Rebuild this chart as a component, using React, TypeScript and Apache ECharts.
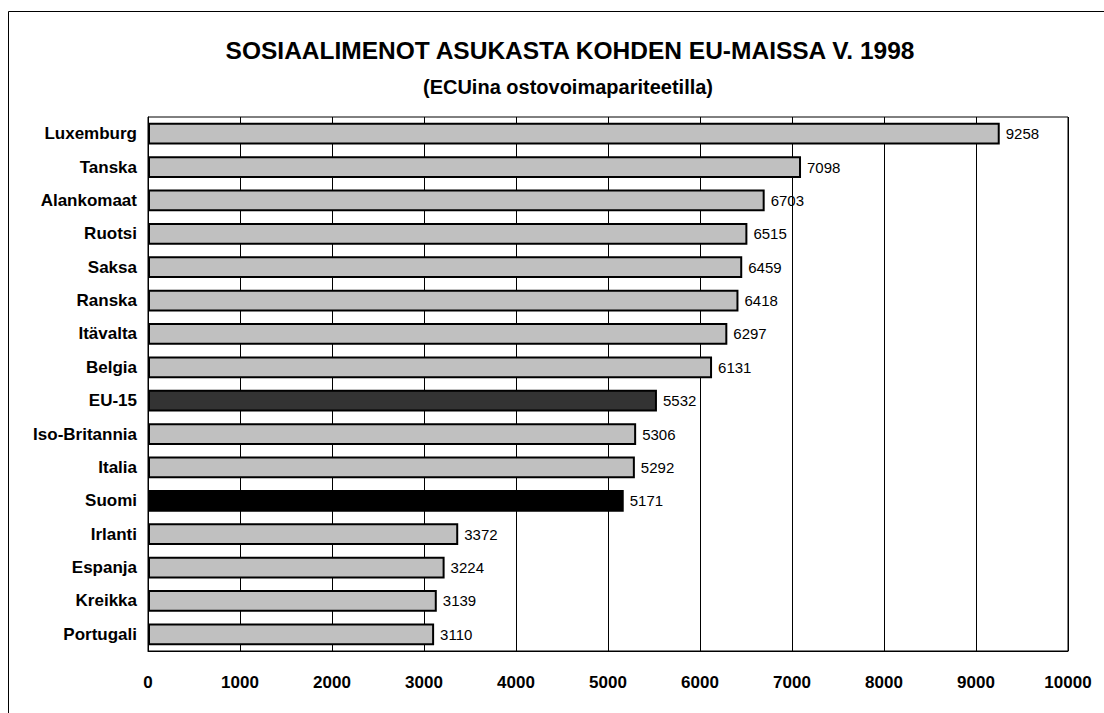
import React, { useEffect, useRef } from "react";
import * as echarts from "echarts";

const categories = [
  "Luxemburg", "Tanska", "Alankomaat", "Ruotsi", "Saksa", "Ranska", "Itävalta", "Belgia",
  "EU-15", "Iso-Britannia", "Italia", "Suomi", "Irlanti", "Espanja", "Kreikka", "Portugali",
];
const values = [9258, 7098, 6703, 6515, 6459, 6418, 6297, 6131, 5532, 5306, 5292, 5171, 3372, 3224, 3139, 3110];
const barColors: Record<string, string> = { "EU-15": "#333333", Suomi: "#000000" };
const defaultColor = "#C0C0C0";

const titleText = "SOSIAALIMENOT ASUKASTA KOHDEN EU-MAISSA V. 1998";
const subtitleText = "(ECUina ostovoimapariteetilla)";

export default function App() {
  const ref = useRef<HTMLDivElement>(null);
  useEffect(() => {
    if (!ref.current) return;
    const chart = echarts.init(ref.current, undefined, { renderer: "svg" });
    const font = "'Liberation Sans', Arial, sans-serif";
    chart.setOption({
      animation: false,
      backgroundColor: "#ffffff",
      textStyle: { fontFamily: font },
      title: [
        {
          text: titleText,
          left: 565,
          top: 33,
          textAlign: "center",
          textStyle: { fontFamily: font, fontSize: 24.5, fontWeight: "bold", color: "#000" },
        },
        {
          text: subtitleText,
          left: 563,
          top: 72,
          textAlign: "center",
          textStyle: { fontFamily: font, fontSize: 20, fontWeight: "bold", color: "#000" },
        },
      ],
      graphic: [
        {
          type: "rect",
          shape: { x: 8.5, y: 11.5, width: 1200, height: 800 },
          style: { fill: "none", stroke: "#000", lineWidth: 1 },
          silent: true,
        },
      ],
      grid: {
        left: 148,
        right: 36,
        top: 117,
        bottom: 62,
        show: true,
        borderColor: "#000",
        borderWidth: 1,
        containLabel: false,
      },
      xAxis: {
        type: "value",
        min: 0,
        max: 10000,
        interval: 1000,
        axisLine: { show: true, lineStyle: { color: "#000", width: 1 } },
        axisTick: { show: false },
        axisLabel: {
          fontFamily: font,
          fontSize: 17,
          fontWeight: "bold",
          color: "#000",
          margin: 23,
          formatter: (v: number) => String(v),
        },
        splitLine: { show: true, lineStyle: { color: "#000", width: 1 } },
      },
      yAxis: {
        type: "category",
        data: categories,
        inverse: true,
        axisLine: { show: true, lineStyle: { color: "#000" } },
        axisTick: { show: false },
        axisLabel: { fontFamily: font, fontSize: 17, fontWeight: "bold", color: "#000", margin: 11 },
        splitLine: { show: false },
      },
      series: [
        {
          type: "bar",
          data: values.map((v, i) => ({
            value: v,
            itemStyle: { color: barColors[categories[i]] || defaultColor },
          })),
          barCategoryGap: "35%",
          itemStyle: { borderColor: "#000", borderWidth: 2 },
          label: {
            show: true,
            position: "right",
            distance: 6,
            fontFamily: font,
            fontSize: 15,
            color: "#000",
          },
        },
      ],
    });
    return () => chart.dispose();
  }, []);
  return (
    <div
      ref={ref}
      style={{ position: "fixed", left: 0, top: 0, width: 1104, height: 713 }}
    />
  );
}
